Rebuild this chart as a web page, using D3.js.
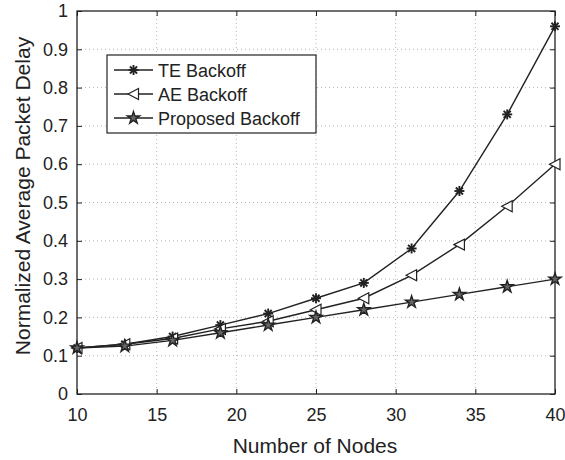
<!DOCTYPE html>
<html>
<head>
<meta charset="utf-8">
<script src="https://cdn.jsdelivr.net/npm/d3@7"></script>
<style>
  body { margin: 0; background: #fff; }
  text { font-family: "Liberation Sans", Arial, sans-serif; fill: #222; }
</style>
</head>
<body>
<div id="chart"></div>
<script>
// data
var nodes = [10, 13, 16, 19, 22, 25, 28, 31, 34, 37, 40];
var teBackoff = [0.12, 0.13, 0.15, 0.18, 0.21, 0.25, 0.29, 0.38, 0.53, 0.73, 0.96];
var aeBackoff = [0.12, 0.13, 0.145, 0.17, 0.19, 0.22, 0.25, 0.31, 0.39, 0.49, 0.60];
var proposedBackoff = [0.12, 0.125, 0.14, 0.16, 0.18, 0.20, 0.22, 0.24, 0.26, 0.28, 0.30];
var seriesNames = ["TE Backoff", "AE Backoff", "Proposed Backoff"];
var xTicks = [10, 15, 20, 25, 30, 35, 40];
var yTicks = [0, 0.1, 0.2, 0.3, 0.4, 0.5, 0.6, 0.7, 0.8, 0.9, 1];

var W = 565, H = 460;
var margin = { left: 77, right: 10, top: 11, bottom: 66 };
var width = W - margin.left - margin.right,
    height = H - margin.top - margin.bottom;

var svg = d3.select("#chart").append("svg")
    .attr("width", W)
    .attr("height", H);

var g = svg.append("g")
    .attr("transform", "translate(" + margin.left + "," + margin.top + ")");

var x = d3.scaleLinear().domain([10, 40]).range([0, width]);
var y = d3.scaleLinear().domain([0, 1]).range([height, 0]);

// grid (dotted, matlab style)
g.append("g").selectAll("line.gx")
    .data(xTicks.slice(1, -1))
    .enter().append("line")
    .attr("x1", function(d){ return x(d); })
    .attr("x2", function(d){ return x(d); })
    .attr("y1", 0).attr("y2", height)
    .attr("stroke", "#b5b5b5")
    .attr("stroke-dasharray", "1,3");
g.append("g").selectAll("line.gy")
    .data(yTicks.slice(1, -1))
    .enter().append("line")
    .attr("y1", function(d){ return y(d); })
    .attr("y2", function(d){ return y(d); })
    .attr("x1", 0).attr("x2", width)
    .attr("stroke", "#b5b5b5")
    .attr("stroke-dasharray", "1,3");

// axes, ticks pointing inwards on all four sides
function styleAxis(sel) {
  sel.select(".domain").remove();
  sel.selectAll(".tick line").attr("stroke", "#222");
  sel.selectAll(".tick text").attr("font-size", "18px").attr("fill", "#222")
     .style("font-family", "'Liberation Sans', Arial, sans-serif");
}
var fmt = function(d){ return d3.format("")(+d.toFixed(1)); };

g.append("g").attr("transform", "translate(0," + height + ")")
  .call(d3.axisBottom(x).tickValues(xTicks).tickSize(-5).tickPadding(14))
  .call(styleAxis);
g.append("g")
  .call(d3.axisTop(x).tickValues(xTicks).tickSize(-5).tickFormat(""))
  .call(styleAxis);
g.append("g")
  .call(d3.axisLeft(y).tickValues(yTicks).tickSize(-5).tickPadding(9).tickFormat(fmt))
  .call(styleAxis);
g.append("g").attr("transform", "translate(" + width + ",0)")
  .call(d3.axisRight(y).tickValues(yTicks).tickSize(-5).tickFormat(""))
  .call(styleAxis);

g.append("rect")
  .attr("width", width).attr("height", height)
  .attr("fill", "none").attr("stroke", "#222").attr("stroke-width", 1.3);

// markers
var starPath = d3.symbol().type(d3.symbolStar).size(46)();
function drawMarker(sel, kind) {
  if (kind === 0) {
    // asterisk
    var r = 5;
    for (var i = 0; i < 4; i++) {
      var a = i * Math.PI / 4;
      sel.append("line")
        .attr("x1", -r * Math.cos(a)).attr("y1", -r * Math.sin(a))
        .attr("x2", r * Math.cos(a)).attr("y2", r * Math.sin(a))
        .attr("stroke", "#222").attr("stroke-width", 1.9);
    }
  } else if (kind === 1) {
    // left pointing triangle
    sel.append("path")
      .attr("d", "M-5.5,0L5,-5.5L5,5.5Z")
      .attr("fill", "#fff").attr("stroke", "#222").attr("stroke-width", 1.2);
  } else {
    sel.append("path")
      .attr("d", starPath)
      .attr("fill", "#666").attr("stroke", "#222").attr("stroke-width", 1.4);
  }
}

var allSeries = [teBackoff, aeBackoff, proposedBackoff];
var line = d3.line()
  .x(function(d, i){ return x(nodes[i]); })
  .y(function(d){ return y(d); });

allSeries.forEach(function(vals, k) {
  g.append("path")
    .datum(vals)
    .attr("d", line)
    .attr("fill", "none")
    .attr("stroke", "#222")
    .attr("stroke-width", 1.4);
  vals.forEach(function(v, i) {
    var m = g.append("g")
      .attr("transform", "translate(" + x(nodes[i]) + "," + y(v) + ")");
    drawMarker(m, k);
  });
});

// legend
var legend = svg.append("g").attr("transform", "translate(107,55)");
legend.append("rect")
  .attr("width", 209).attr("height", 78)
  .attr("fill", "#fff").attr("stroke", "#222").attr("stroke-width", 1.2);
seriesNames.forEach(function(name, k) {
  var ly = 15 + k * 24;
  legend.append("line")
    .attr("x1", 7).attr("x2", 46).attr("y1", ly).attr("y2", ly)
    .attr("stroke", "#222").attr("stroke-width", 1.5);
  var m = legend.append("g").attr("transform", "translate(26.5," + ly + ")");
  drawMarker(m, k);
  legend.append("text")
    .attr("x", 51).attr("y", ly + 6.5)
    .attr("font-size", "18px")
    .text(name);
});

// axis titles
svg.append("text")
  .attr("x", 315)
  .attr("y", 453)
  .attr("text-anchor", "middle")
  .attr("font-size", "21px")
  .text("Number of Nodes");

svg.append("text")
  .attr("transform", "translate(30,196) rotate(-90)")
  .attr("text-anchor", "middle")
  .attr("font-size", "21px")
  .text("Normalized Average Packet Delay");
</script>
</body>
</html>
